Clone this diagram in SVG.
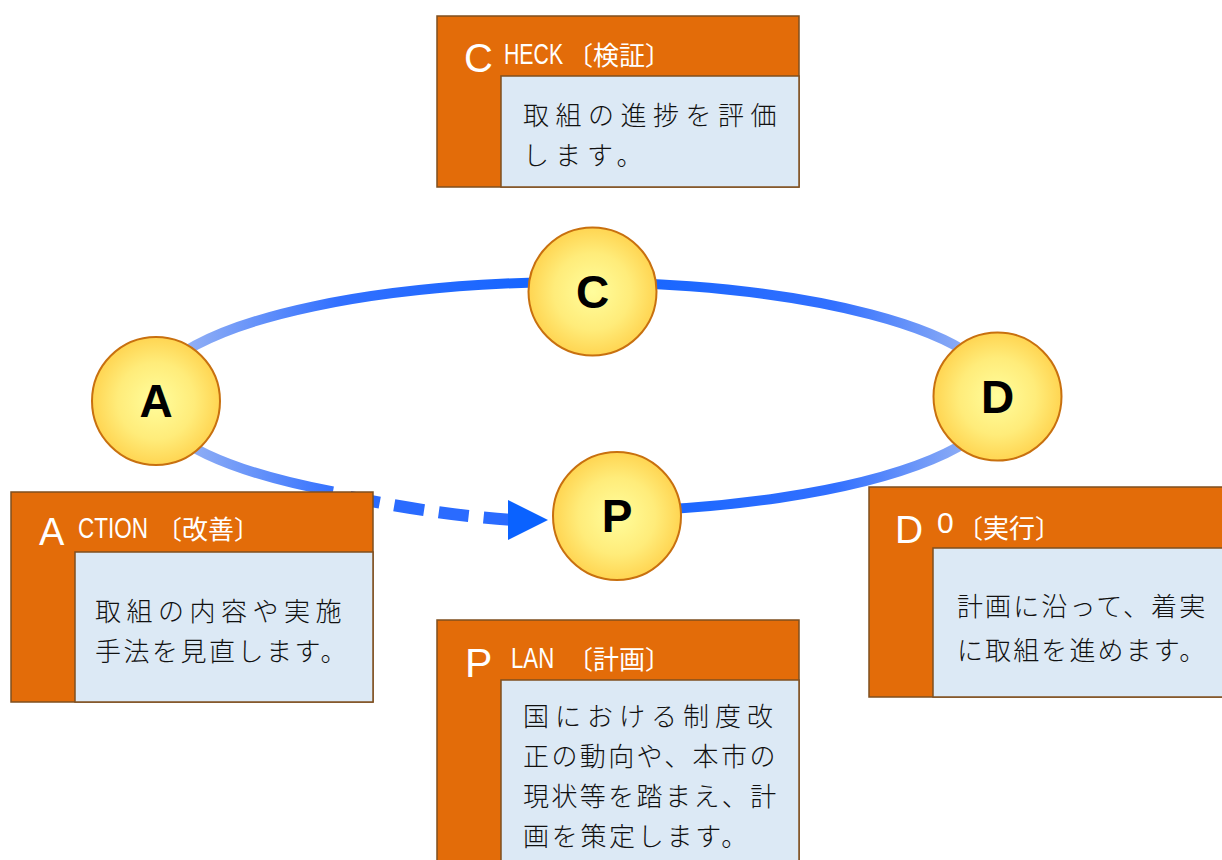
<svg xmlns="http://www.w3.org/2000/svg" width="1222" height="860" viewBox="0 0 1222 860">
<defs>
<linearGradient id="ringGrad" gradientUnits="userSpaceOnUse" x1="150" y1="0" x2="1005" y2="0">
<stop offset="0" stop-color="#a9bff2"/>
<stop offset="0.22" stop-color="#3270ff"/>
<stop offset="0.5" stop-color="#0f62ff"/>
<stop offset="0.8" stop-color="#3270ff"/>
<stop offset="1" stop-color="#a9bff2"/>
</linearGradient>
<radialGradient id="ballGrad" cx="0.5" cy="0.5" r="0.5">
<stop offset="0" stop-color="#fffd9c"/>
<stop offset="0.6" stop-color="#ffec7a"/>
<stop offset="1" stop-color="#ffd552"/>
</radialGradient>
<style>
.ball{fill:url(#ballGrad);stroke:#c8700f;stroke-width:2}
.blabel{font-family:"Liberation Sans",Arial,sans-serif;font-weight:bold;font-size:46px;fill:#000;text-anchor:middle}
.outer{fill:#e36c09;stroke:#7f4f1f;stroke-width:1.5}
.inner{fill:#dce9f5;stroke:#7f4f1f;stroke-width:1.5}
.big{font-family:"Liberation Sans",Arial,sans-serif;fill:#fff}
.lat{font-family:"Liberation Sans",Arial,sans-serif;fill:#fff;font-size:30px}
.hj{font-family:"Noto Sans CJK JP",sans-serif;fill:#fff;font-size:26px}
.body{font-family:"Noto Sans CJK JP",sans-serif;font-weight:300;fill:#111;font-size:26px}
</style>
</defs>
<rect width="1222" height="860" fill="#fff"/>
<g id="connectors">
<path d="M333,491.5 A425,115 0 1 1 600,511.8" fill="none" stroke="url(#ringGrad)" stroke-width="10"/>
<path d="M350,497 Q440,515 512,520" fill="none" stroke="#2a6bff" stroke-width="12" stroke-dasharray="30 15"/>
<polygon points="508,500 548,520 508,540" fill="#0a62ff"/>
</g>
<g id="node-C"><circle class="ball" cx="592.5" cy="291.5" r="64"/><text class="blabel" x="592.5" y="308">C</text></g>
<g id="node-A"><circle class="ball" cx="156" cy="401" r="64"/><text class="blabel" x="156" y="417">A</text></g>
<g id="node-D"><circle class="ball" cx="997.5" cy="396.5" r="64"/><text class="blabel" x="997.5" y="413">D</text></g>
<g id="node-P"><circle class="ball" cx="617" cy="516" r="64"/><text class="blabel" x="617" y="532">P</text></g>
<g id="box-check">
<rect class="outer" x="437" y="16" width="362" height="171"/>
<rect class="inner" x="501" y="76" width="298" height="111"/>
<text class="big" x="464" y="72" font-size="40">C</text>
<text class="lat" transform="translate(504,64) scale(0.71,1)">HECK</text>
<text class="hj" x="567" y="65">〔検証〕</text>
<text class="body" x="523" y="125" letter-spacing="6.5">取組の進捗を評価</text>
<text class="body" x="523" y="165" letter-spacing="6">します。</text>
</g>
<g id="box-action">
<rect class="outer" x="11" y="492" width="362" height="210"/>
<rect class="inner" x="75" y="552" width="298" height="150"/>
<text class="big" x="39" y="545" font-size="38">A</text>
<text class="lat" transform="translate(78,538) scale(0.75,1)">CTION</text>
<text class="hj" x="156" y="539" font-size="25">〔改善〕</text>
<text class="body" x="95" y="621" letter-spacing="5.5">取組の内容や実施</text>
<text class="body" x="95" y="661" letter-spacing="2.5">手法を見直します。</text>
</g>
<g id="box-do">
<rect class="outer" x="869" y="487" width="360" height="210"/>
<rect class="inner" x="933" y="548" width="296" height="149"/>
<text class="big" x="895" y="543" font-size="39">D</text>
<text class="lat" x="937" y="533" font-size="25">0</text>
<text class="hj" x="957" y="538">〔実行〕</text>
<text class="body" x="957" y="616" letter-spacing="2.1">計画に沿って、着実</text>
<text class="body" x="957" y="660" letter-spacing="2.1">に取組を進めます。</text>
</g>
<g id="box-plan">
<rect class="outer" x="437" y="620" width="362" height="250"/>
<rect class="inner" x="501" y="680" width="298" height="190"/>
<text class="big" x="465" y="677" font-size="41">P</text>
<text class="lat" transform="translate(511,668) scale(0.74,1)">LAN</text>
<text class="hj" x="567" y="669">〔計画〕</text>
<text class="body" x="523" y="726" letter-spacing="6">国における制度改</text>
<text class="body" x="523" y="766" letter-spacing="2.4">正の動向や、本市の</text>
<text class="body" x="523" y="806" letter-spacing="2.4">現状等を踏まえ、計</text>
<text class="body" x="523" y="846" letter-spacing="2.7">画を策定します。</text>
</g>
</svg>
